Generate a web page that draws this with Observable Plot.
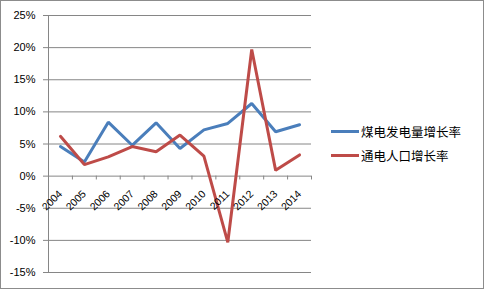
<!DOCTYPE html>
<html>
<head>
<meta charset="utf-8">
<script src="https://cdn.jsdelivr.net/npm/d3@7"></script>
<script src="https://cdn.jsdelivr.net/npm/@observablehq/plot@0.6"></script>
<style>
  body { margin: 0; background: #fff; }
  #wrap { position: relative; width: 484px; height: 289px; overflow: hidden; }
  #border { position: absolute; left: 0; top: 0; width: 484px; height: 289px; box-sizing: border-box; border: 1px solid #8c8c8c; pointer-events: none; }
  .leg { position: absolute; font-family: "Noto Sans CJK SC", sans-serif; font-size: 12.5px; color: #000; line-height: 16px; }
  .legline { position: absolute; width: 28px; height: 3px; }
</style>
</head>
<body>
<div id="wrap"><div id="border"></div></div>
<script>
const years = [2004, 2005, 2006, 2007, 2008, 2009, 2010, 2011, 2012, 2013, 2014];
const coalPowerGrowth = [4.6, 2.2, 8.4, 4.8, 8.3, 4.3, 7.2, 8.2, 11.3, 6.9, 8.0];
const electrifiedPopGrowth = [6.2, 1.8, 3.0, 4.6, 3.8, 6.4, 3.1, -10.3, 19.7, 0.9, 3.3];
const seriesNames = ["煤电发电量增长率", "通电人口增长率"];
const seriesColors = ["#4A7EBB", "#BE4B48"];
const yTicks = [-15, -10, -5, 0, 5, 10, 15, 20, 25];

const data = [];
years.forEach((y, i) => {
  data.push({year: y, value: coalPowerGrowth[i], series: seriesNames[0]});
  data.push({year: y, value: electrifiedPopGrowth[i], series: seriesNames[1]});
});
const boundaries = [years[0] - 0.5, ...years.map(y => y + 0.5)];

const chart = Plot.plot({
  width: 484,
  height: 289,
  marginLeft: 48,
  marginRight: 173,
  marginTop: 15,
  marginBottom: 17,
  style: {fontFamily: "'Liberation Sans', Arial, sans-serif", fontSize: "11px", background: "transparent"},
  x: {type: "linear", domain: [years[0] - 0.5, years[years.length - 1] + 0.5], axis: null},
  y: {domain: [-15, 25], axis: null},
  color: {domain: seriesNames, range: seriesColors},
  marks: [
    Plot.ruleY(yTicks, {stroke: "#868686", strokeWidth: 1}),
    Plot.ruleX([years[0] - 0.5], {stroke: "#868686", strokeWidth: 1}),
    Plot.axisY({ticks: yTicks, tickFormat: d => d + "%", tickSize: 5, tickPadding: 8, stroke: "#868686", fill: "#000", label: null}),
    Plot.ruleX(boundaries, {x: d => d, y1: 0, y2: -0.6, stroke: "#868686"}),
    Plot.line(data, {x: "year", y: "value", z: "series", stroke: "series", strokeWidth: 3, strokeLinejoin: "miter"}),
    Plot.text(years, {x: d => d, y: 0, text: d => String(d), rotate: -45, textAnchor: "end", lineAnchor: "middle", fontSize: 10.5, dx: 0, dy: 16, fill: "#000"})
  ]
});
const wrap = document.getElementById("wrap");
chart.style.position = "absolute";
chart.style.left = "0";
chart.style.top = "0";
wrap.insertBefore(chart, wrap.firstChild);

const legTops = [124, 148];
seriesNames.forEach((name, i) => {
  const ln = document.createElement("div");
  ln.className = "legline";
  ln.style.left = "331px";
  ln.style.top = (legTops[i] + 6) + "px";
  ln.style.background = seriesColors[i];
  wrap.appendChild(ln);
  const t = document.createElement("div");
  t.className = "leg";
  t.style.left = "361px";
  t.style.top = legTops[i] + "px";
  t.textContent = name;
  wrap.appendChild(t);
});
</script>
</body>
</html>
